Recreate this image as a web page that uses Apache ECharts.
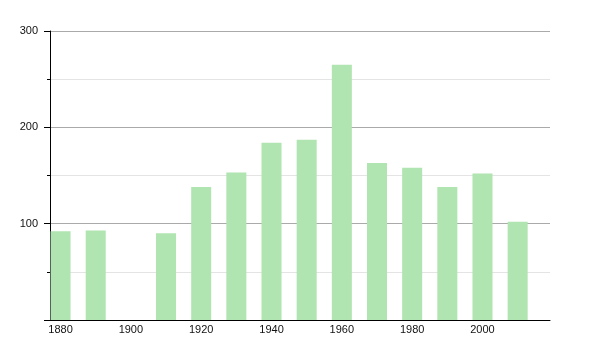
<!DOCTYPE html>
<html>
<head>
<meta charset="utf-8">
<script src="https://cdn.jsdelivr.net/npm/echarts@6/dist/echarts.min.js"></script>
<style>html,body{margin:0;padding:0;background:#fff}#c{width:600px;height:350px}</style>
</head>
<body>
<div id="c"></div>
<script>
var years = [1880, 1890, 1910, 1920, 1930, 1940, 1950, 1960, 1970, 1980, 1990, 2000, 2010];
var values = [92, 93, 90, 138, 153, 184, 187, 265, 163, 158, 138, 152, 102];
var xTickLabels = [1880, 1900, 1920, 1940, 1960, 1980, 2000];
var yTickLabels = [100, 200, 300];

var chart = echarts.init(document.getElementById('c'), null, {renderer: 'canvas'});
var font = 'Liberation Sans, Arial, sans-serif';
chart.setOption({
  animation: false,
  grid: {left: 50, right: 50, top: 31, bottom: 30, containLabel: false},
  xAxis: {
    type: 'value', min: 1877, max: 2019.2,
    axisLine: {show: true, lineStyle: {color: '#000', width: 1}},
    axisTick: {show: false},
    splitLine: {show: false},
    axisLabel: {
      customValues: xTickLabels,
      color: '#111', fontSize: 11, fontFamily: font, margin: 4,
      formatter: function (v) { return String(v); }
    }
  },
  yAxis: {
    type: 'value', min: 0, max: 300, interval: 100,
    axisLine: {show: true, lineStyle: {color: '#000', width: 1}},
    axisTick: {show: true, length: 6, lineStyle: {color: '#000'}},
    minorTick: {show: true, splitNumber: 2, length: 3, lineStyle: {color: '#000'}},
    splitLine: {show: true, lineStyle: {color: '#aaaaaa', width: 1}},
    minorSplitLine: {show: true, lineStyle: {color: '#e4e4e4', width: 1}},
    axisLabel: {
      color: '#111', fontSize: 11, fontFamily: font, margin: 12,
      formatter: function (v) { return yTickLabels.indexOf(v) >= 0 ? String(v) : ''; }
    }
  },
  series: [{
    type: 'bar',
    barWidth: 20,
    itemStyle: {color: '#b0e4b0'},
    data: years.map(function (y, i) { return [y, values[i]]; })
  }]
});
</script>
</body>
</html>
